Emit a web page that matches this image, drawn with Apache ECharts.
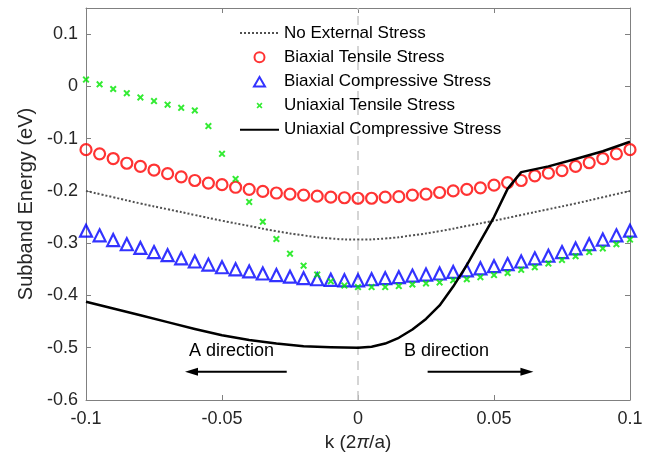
<!DOCTYPE html>
<html><head><meta charset="utf-8">
<script src="https://cdn.jsdelivr.net/npm/echarts@6/dist/echarts.min.js"></script>
<style>html,body{margin:0;padding:0;background:#fff}#c{width:667px;height:468px}</style>
</head><body><div id="c"></div>
<script>
// ---- data ----
const kMarkers = [-0.1,-0.095,-0.09,-0.085,-0.08,-0.075,-0.07,-0.065,-0.06,-0.055,-0.05,-0.045,-0.04,-0.035,-0.03,-0.025,-0.02,-0.015,-0.01,-0.005,0,
  0.005,0.01,0.015,0.02,0.025,0.03,0.035,0.04,0.045,0.05,0.055,0.06,0.065,0.07,0.075,0.08,0.085,0.09,0.095,0.1];
const biaxialTensile = [-0.121,-0.129,-0.138,-0.147,-0.153,-0.160,-0.167,-0.173,-0.180,-0.185,-0.188,-0.193,-0.197,-0.201,-0.204,-0.206,-0.208,-0.210,-0.212,-0.213,-0.214,
  -0.214,-0.212,-0.211,-0.208,-0.206,-0.203,-0.200,-0.197,-0.194,-0.189,-0.184,-0.180,-0.171,-0.166,-0.161,-0.153,-0.146,-0.138,-0.129,-0.121];
const biaxialCompressive = [-0.276,-0.285,-0.294,-0.302,-0.309,-0.317,-0.323,-0.329,-0.335,-0.341,-0.346,-0.350,-0.354,-0.358,-0.361,-0.364,-0.367,-0.369,-0.370,-0.371,-0.371,
  -0.369,-0.367,-0.365,-0.362,-0.360,-0.358,-0.355,-0.352,-0.348,-0.344,-0.340,-0.335,-0.329,-0.324,-0.317,-0.310,-0.302,-0.293,-0.285,-0.276];
const uniaxialTensile = [0.013,0.004,-0.005,-0.013,-0.021,-0.028,-0.035,-0.041,-0.046,-0.076,-0.129,-0.177,-0.221,-0.259,-0.292,-0.320,-0.343,-0.360,-0.373,-0.381,-0.384,
  -0.384,-0.384,-0.382,-0.379,-0.377,-0.375,-0.371,-0.369,-0.365,-0.361,-0.357,-0.351,-0.346,-0.339,-0.332,-0.325,-0.317,-0.310,-0.302,-0.293];
const kNoStress = [-0.1,-0.09,-0.08,-0.07,-0.06,-0.05,-0.04,-0.03,-0.02,-0.01,0,0.01,0.02,0.03,0.04,0.05,0.06,0.07,0.08,0.09,0.1];
const noStress = [-0.200,-0.212,-0.224,-0.235,-0.246,-0.257,-0.267,-0.277,-0.285,-0.291,-0.293,-0.291,-0.285,-0.277,-0.267,-0.257,-0.246,-0.235,-0.224,-0.212,-0.200];
const kUniComp = [-0.1,-0.09,-0.08,-0.07,-0.06,-0.05,-0.04,-0.03,-0.02,-0.01,0,0.005,0.01,0.015,0.02,0.025,0.03,0.035,0.04,0.045,0.05,0.055,0.06,0.07,0.08,0.09,0.1];
const uniaxialCompressive = [-0.412,-0.425,-0.438,-0.451,-0.464,-0.476,-0.485,-0.492,-0.497,-0.499,-0.500,-0.498,-0.492,-0.481,-0.465,-0.445,-0.419,-0.383,-0.342,-0.296,-0.250,-0.196,-0.164,-0.153,-0.139,-0.124,-0.106];
const seriesNames = ['No External Stress','Biaxial Tensile Stress','Biaxial Compressive Stress','Uniaxial Tensile Stress','Uniaxial Compressive Stress'];
const xTicks = [-0.1,-0.05,0,0.05,0.1];
const yTicks = [-0.6,-0.5,-0.4,-0.3,-0.2,-0.1,0,0.1];
// annotations (data units)
const annA = {text:'A direction', at:[-0.0465,-0.507], from:[-0.0262,-0.546], to:[-0.0636,-0.546]};
const annB = {text:'B direction', at:[0.0325,-0.507], from:[0.0256,-0.546], to:[0.0645,-0.546]};

const zip = (xs, ys) => xs.map((x,i)=>[x, ys[i]]);
const FONT = 'Liberation Sans, Arial, sans-serif';
const fmt = v => { const r = Math.round(v*100)/100; return r.toString(); };
const X_PATH = 'path://M0,2 L2,0 L5,3 L8,0 L10,2 L7,5 L10,8 L8,10 L5,7 L2,10 L0,8 L3,5 Z';
// legend icons drawn in the full 39x10 legend box so they keep their shape
const LEG_TRI = 'path://M0,0 M39,10 M19.5,0.5 L25,10 L14,10 Z';
const LEG_X = 'path://M0,0 M39,10 M16.5,3.2 L17.7,2 L19.5,3.8 L21.3,2 L22.5,3.2 L20.7,5 L22.5,6.8 L21.3,8 L19.5,6.2 L17.7,8 L16.5,6.8 L18.3,5 Z';
const hiddenSym = {color:'rgba(0,0,0,0)', borderColor:'rgba(0,0,0,0)', borderWidth:0};

const chart = echarts.init(document.getElementById('c'), null, {renderer:'canvas'});
const axisCommon = {
  axisLine:{show:true, onZero:false, lineStyle:{color:'#808080', width:1}},
  axisTick:{show:true, inside:true, length:5, lineStyle:{color:'#808080'}},
  splitLine:{show:false}
};
chart.setOption({
  animation:false,
  backgroundColor:'#fff',
  grid:{left:86, right:37, top:8, bottom:68, containLabel:false},
  xAxis:[
    Object.assign({type:'value', min:-0.1, max:0.1, interval:0.05, position:'bottom',
      name:'{a|k (2}{p|π}{a|/a)}', nameLocation:'middle', nameGap:32,
      nameTextStyle:{rich:{a:{fontFamily:FONT, fontSize:19, color:'#262626'}, p:{fontFamily:FONT, fontSize:19, fontStyle:'italic', color:'#262626'}}},
      axisLabel:{fontFamily:FONT, fontSize:18, color:'#262626', margin:10, formatter:v=>xTicks.some(t=>Math.abs(t-v)<1e-9)?fmt(v):''}}, axisCommon),
    Object.assign({type:'value', min:-0.1, max:0.1, interval:0.05, position:'top', axisLabel:{show:false}}, axisCommon)
  ],
  yAxis:[
    Object.assign({type:'value', min:-0.6, max:0.15, interval:0.1, position:'left',
      name:'Subband Energy (eV)', nameLocation:'middle', nameGap:50,
      nameTextStyle:{fontFamily:FONT, fontSize:20, color:'#262626'},
      axisLabel:{fontFamily:FONT, fontSize:18, color:'#262626', margin:8, showMaxLabel:false, formatter:v=>yTicks.some(t=>Math.abs(t-v)<1e-9)?fmt(v):''}}, axisCommon),
    Object.assign({type:'value', min:-0.6, max:0.15, interval:0.1, position:'right', axisLabel:{show:false}}, axisCommon)
  ],
  legend:{
    orient:'vertical', left:239, top:24.5, padding:0, itemWidth:39, itemHeight:10, itemGap:7.2,
    textStyle:{fontFamily:FONT, fontSize:17, color:'#000'},
    data:[
      {name:seriesNames[0], itemStyle:hiddenSym},
      {name:seriesNames[1]},
      {name:seriesNames[2], icon:LEG_TRI},
      {name:seriesNames[3], icon:LEG_X},
      {name:seriesNames[4], itemStyle:hiddenSym}
    ]
  },
  series:[
    {name:seriesNames[0], type:'line', data:zip(kNoStress,noStress), smooth:true, symbol:'none',
      lineStyle:{color:'#505050', width:2, type:[2,2]}, itemStyle:{color:'#505050'}, z:3,
      markLine:{silent:true, symbol:'none', label:{show:false}, lineStyle:{color:'#c8c8c8', width:1.5, type:[9,6]}, data:[{xAxis:0}], z:1}},
    {name:seriesNames[1], type:'scatter', data:zip(kMarkers,biaxialTensile), symbol:'circle', symbolSize:11,
      itemStyle:{color:'rgba(0,0,0,0)', borderColor:'#ff0000', borderWidth:2.2}, z:4},
    {name:seriesNames[2], type:'scatter', data:zip(kMarkers,biaxialCompressive), symbol:'triangle', symbolSize:12, symbolKeepAspect:true,
      itemStyle:{color:'rgba(0,0,0,0)', borderColor:'#0000ff', borderWidth:2.2}, z:4},
    {name:seriesNames[3], type:'scatter', data:zip(kMarkers,uniaxialTensile), symbol:X_PATH, symbolSize:7, symbolKeepAspect:true,
      itemStyle:{color:'#00e600'}, z:5},
    {name:seriesNames[4], type:'line', data:zip(kUniComp,uniaxialCompressive), smooth:false, symbol:'none',
      lineStyle:{color:'#000', width:2.5, join:'round'}, itemStyle:{color:'#000'}, z:6}
  ]
});

function annot(a){
  const p = chart.convertToPixel({xAxisIndex:0,yAxisIndex:0}, a.at);
  const f = chart.convertToPixel({xAxisIndex:0,yAxisIndex:0}, a.from);
  const t = chart.convertToPixel({xAxisIndex:0,yAxisIndex:0}, a.to);
  const dir = Math.sign(t[0]-f[0]);
  return [
    {type:'text', x:p[0], y:p[1], style:{text:a.text, font:'18px '+FONT, fill:'#000', align:'center', verticalAlign:'middle'}},
    {type:'line', shape:{x1:f[0], y1:f[1], x2:t[0]-dir*6, y2:t[1]}, style:{stroke:'#000', lineWidth:2}},
    {type:'polygon', shape:{points:[[t[0],t[1]],[t[0]-dir*13,t[1]-4],[t[0]-dir*13,t[1]+4]]}, style:{fill:'#000'}}
  ];
}
chart.setOption({graphic:{elements:[].concat(annot(annA), annot(annB))}});
</script></body></html>
